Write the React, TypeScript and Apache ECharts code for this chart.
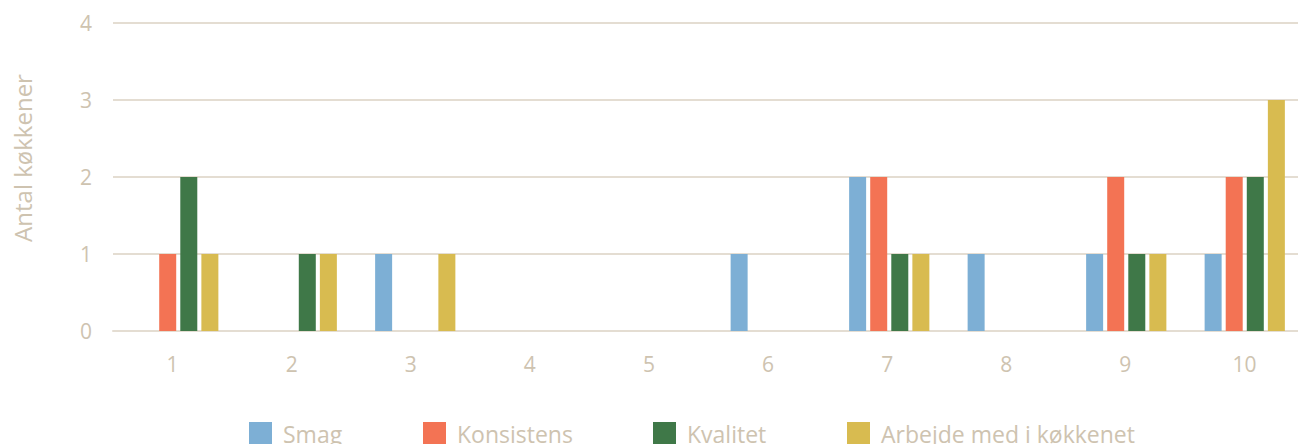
import React, { useEffect, useRef } from "react";
import * as echarts from "echarts";

const categories = ["1", "2", "3", "4", "5", "6", "7", "8", "9", "10"];
const yTicks = [0, 1, 2, 3, 4];
const smag = [0, 0, 1, 0, 0, 1, 2, 1, 1, 1];
const konsistens = [1, 0, 0, 0, 0, 0, 2, 0, 2, 2];
const kvalitet = [2, 1, 0, 0, 0, 0, 1, 0, 1, 2];
const arbejde = [1, 1, 1, 0, 0, 0, 1, 0, 1, 3];
const seriesNames = ["Smag", "Konsistens", "Kvalitet", "Arbejde med i køkkenet"];
const yAxisTitle = "Antal køkkener";

const colors = ["#7DAFD5", "#F37354", "#3F7848", "#D8BB50"];
const legendLefts = [249, 423, 653, 847];
const textColor = "#CEC3B0";
const gridColor = "#E4DDD2";
const font = "Open Sans";

export default function App() {
  const ref = useRef<HTMLDivElement>(null);
  useEffect(() => {
    if (!ref.current) return;
    const chart = echarts.init(ref.current, undefined, { renderer: "svg" });
    const data = [smag, konsistens, kvalitet, arbejde];
    const yMin = yTicks[0];
    const yMax = yTicks[yTicks.length - 1];
    chart.setOption({
      animation: false,
      color: colors,
      textStyle: { fontFamily: font },
      grid: [
        { left: 113, right: 6, top: 23, bottom: 113, containLabel: false },
        { left: 119, right: 6, top: 23, bottom: 113, containLabel: false },
      ],
      legend: seriesNames.map((name, i) => ({
        left: legendLefts[i],
        top: 422,
        padding: 0,
        itemWidth: 23,
        itemHeight: 23,
        icon: "rect",
        textStyle: {
          color: textColor,
          fontSize: 23,
          lineHeight: 23,
          fontFamily: font,
          padding: [0, 0, 0, 6],
        },
        data: [name],
      })),
      xAxis: [
        {
          type: "category",
          gridIndex: 0,
          data: categories,
          axisLine: { show: true, lineStyle: { color: gridColor, width: 2 } },
          axisTick: { show: false },
          axisLabel: { color: textColor, fontSize: 21, margin: 22, fontFamily: font },
        },
        {
          type: "category",
          gridIndex: 1,
          data: categories,
          show: false,
        },
      ],
      yAxis: [
        {
          type: "value",
          gridIndex: 0,
          min: yMin,
          max: yMax,
          interval: 1,
          axisLine: { show: false },
          axisTick: { show: false },
          splitLine: { lineStyle: { color: gridColor, width: 2 } },
          axisLabel: { color: textColor, fontSize: 21, margin: 21, fontFamily: font },
        },
        {
          type: "value",
          gridIndex: 1,
          min: yMin,
          max: yMax,
          interval: 1,
          show: false,
          splitLine: { show: false },
        },
      ],
      graphic: [
        {
          type: "text",
          x: 22,
          y: 158,
          rotation: Math.PI / 2,
          style: {
            text: yAxisTitle,
            fill: textColor,
            fontSize: 24,
            fontFamily: font,
            align: "center",
            verticalAlign: "middle",
          },
        },
      ],
      series: seriesNames.map((name, i) => ({
        name,
        type: "bar",
        xAxisIndex: 1,
        yAxisIndex: 1,
        data: data[i],
        barWidth: 17,
        barGap: "24%",
        itemStyle: { color: colors[i] },
      })),
    });
    return () => chart.dispose();
  }, []);
  return (
    <div
      ref={ref}
      style={{ position: "fixed", left: 0, top: 0, width: 1310, height: 444, background: "#fff" }}
    />
  );
}
